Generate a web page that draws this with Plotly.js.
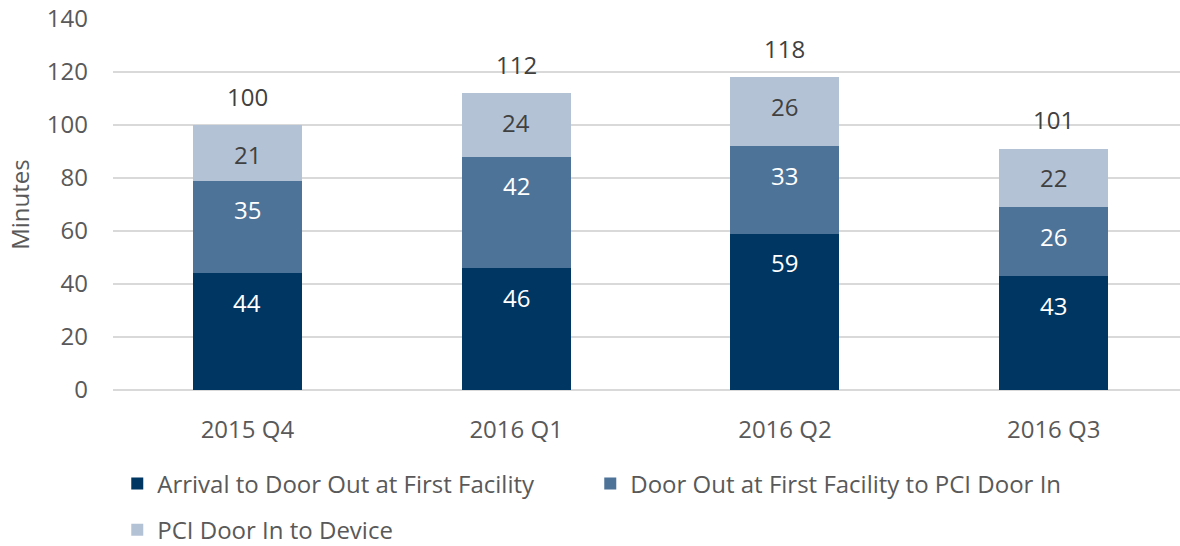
<!DOCTYPE html>
<html>
<head>
<meta charset="utf-8">
<script src="https://cdn.plot.ly/plotly-3.0.1.min.js"></script>
<style>html,body{margin:0;padding:0;background:#fff;}#chart{width:1180px;height:546px;}</style>
</head>
<body>
<div id="chart"></div>
<script>
const categories = ["2015 Q4", "2016 Q1", "2016 Q2", "2016 Q3"];
const arrivalToDoorOut = [44, 46, 59, 43];
const doorOutToPciDoorIn = [35, 42, 33, 26];
const pciDoorInToDevice = [21, 24, 26, 22];
const totalLabels = [100, 112, 118, 101];
const seriesNames = [
  "Arrival to Door Out at First Facility",
  "Door Out at First Facility to PCI Door In",
  "PCI Door In to Device"
];
const colors = ["#003662", "#4e7398", "#b4c2d6"];
const labelColors = ["#ffffff", "#ffffff", "#404040"];
const FONT = "'Open Sans', sans-serif";
const FS = 24;

const legendIds = ["legend", "legend3", "legend2"];
const seriesVals = [arrivalToDoorOut, doorOutToPciDoorIn, pciDoorInToDevice];
const traces = seriesVals.map((vals, i) => ({
  type: "bar",
  name: seriesNames[i],
  x: categories,
  y: vals,
  marker: {color: colors[i]},
  hoverinfo: "skip",
  legend: legendIds[i]
}));

const annotations = [];
categories.forEach((c, j) => {
  let cum = 0;
  seriesVals.forEach((vals, i) => {
    cum += vals[j];
    annotations.push({
      x: c, y: cum, xref: "x", yref: "y", text: String(vals[j]),
      showarrow: false, yshift: -29, yanchor: "middle",
      font: {family: FONT, size: FS, color: labelColors[i]}
    });
  });
  annotations.push({
    x: c, y: cum, xref: "x", yref: "y", text: String(totalLabels[j]),
    showarrow: false, yshift: 29, yanchor: "middle",
    font: {family: FONT, size: FS, color: "#404040"}
  });
});

function legendCfg(x, y) {
  return {
    orientation: "h", x: x, y: y, xanchor: "left", yanchor: "middle",
    xref: "paper", yref: "paper",
    font: {family: FONT, size: FS, color: "#595959"},
    itemwidth: 30, bgcolor: "rgba(0,0,0,0)"
  };
}

const layout = {
  width: 1180, height: 546,
  margin: {l: 113, r: 0, t: 19, b: 156, autoexpand: false},
  paper_bgcolor: "#ffffff", plot_bgcolor: "#ffffff",
  barmode: "stack",
  bargap: 0.595,
  font: {family: FONT, size: FS, color: "#595959"},
  xaxis: {
    type: "category",
    range: [-0.5, 3.47],
    showgrid: false, zeroline: false, showline: false,
    ticks: "", ticklabelstandoff: 23,
    tickfont: {family: FONT, size: FS, color: "#595959"},
    fixedrange: true, automargin: false
  },
  yaxis: {
    range: [0, 140], tickvals: [0, 20, 40, 60, 80, 100, 120, 140],
    showgrid: true, gridcolor: "#d9d9d9", gridwidth: 1.5,
    zeroline: true, zerolinecolor: "#d9d9d9", zerolinewidth: 1.5,
    showline: false, ticks: "", ticklen: 0, ticklabelstandoff: 24,
    tickfont: {family: FONT, size: FS, color: "#595959"},
    title: {text: "Minutes", font: {family: FONT, size: FS, color: "#595959"}, standoff: 10},
    fixedrange: true, automargin: false
  },
  showlegend: true,
  legend: legendCfg(0.004, -0.253),
  legend3: legendCfg(0.4473, -0.253),
  legend2: legendCfg(0.004, -0.378),
  annotations: annotations
};

Plotly.newPlot("chart", traces, layout, {displayModeBar: false, staticPlot: true});
</script>
</body>
</html>
